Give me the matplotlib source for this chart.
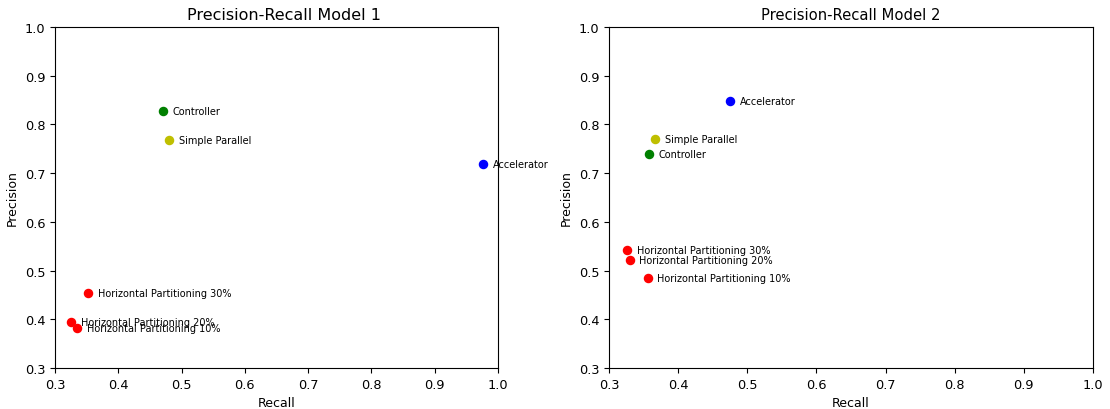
import matplotlib
matplotlib.use('Agg')
import matplotlib.pyplot as plt

# configurations plotted in both panels
labels = ['Controller', 'Simple Parallel', 'Accelerator',
          'Horizontal Partitioning 30%', 'Horizontal Partitioning 20%',
          'Horizontal Partitioning 10%']
colors = ['g', 'y', 'b', 'r', 'r', 'r']

# model 1
recall_m1 = [0.471, 0.480, 0.976, 0.352, 0.325, 0.335]
precision_m1 = [0.827, 0.768, 0.719, 0.453, 0.394, 0.383]

# model 2
recall_m2 = [0.358, 0.367, 0.475, 0.326, 0.330, 0.356]
precision_m2 = [0.739, 0.770, 0.848, 0.542, 0.522, 0.485]

fig = plt.figure(figsize=(11.1, 4.1), dpi=100)
# the two panels are not the same width in the original
ax1 = fig.add_axes([55 / 1110, 0.1, 443 / 1110, 0.832])
ax2 = fig.add_axes([609 / 1110, 0.1, 484 / 1110, 0.832])

panels = [(ax1, recall_m1, precision_m1, 'Precision-Recall Model 1', 11.5, 0.518),
          (ax2, recall_m2, precision_m2, 'Precision-Recall Model 2', 10.6, 0.5)]

for ax, rec, prec, title, tsize, tx in panels:
    for r, p, c, lab in zip(rec, prec, colors, labels):
        ax.scatter(r, p, color=c, s=34)
        ax.annotate(lab, (r, p), xytext=(7, 0), textcoords='offset points',
                    va='center', fontsize=7)
    ax.set_xlim(0.3, 1.0)
    ax.set_ylim(0.3, 1.0)
    ax.tick_params(labelsize=9.3)
    ax.set_xlabel('Recall', fontsize=9)
    ax.set_ylabel('Precision', fontsize=9)
    ax.set_title(title, fontsize=tsize, x=tx)

plt.savefig('out.png')
